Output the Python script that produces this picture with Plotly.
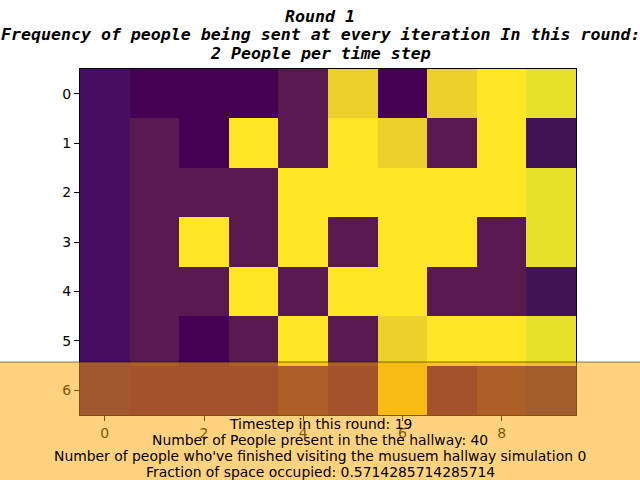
import plotly.graph_objects as go

# Colour codes: 0=A deep purple, 1=G dark violet, 2=B purple, 3=C red-purple,
# 4=E dark yellow, 5=F yellow-green, 6=D bright yellow
palette = ["#440154", "#421456", "#470d60", "#58194f", "#ecd12a", "#e8e12b", "#fde725"]

grid = [
    [2, 0, 0, 0, 3, 4, 0, 4, 6, 5],
    [2, 3, 0, 6, 3, 6, 4, 3, 6, 1],
    [2, 3, 3, 3, 6, 6, 6, 6, 6, 5],
    [2, 3, 6, 3, 6, 3, 6, 6, 3, 5],
    [2, 3, 3, 6, 3, 6, 6, 3, 3, 1],
    [2, 3, 0, 3, 6, 3, 4, 6, 6, 5],
    [2, 0, 0, 0, 3, 0, 4, 0, 3, 1],
]
cols = list(range(10))
rows = list(range(7))
x_ticks = [0, 2, 4, 6, 8]

title_lines = [
    "Round 1",
    "Frequency of people being sent at every iteration In this round:",
    "2 People per time step",
]
info_lines = [
    "Timestep in this round: 19",
    "Number of People present in the the hallway: 40",
    "Number of people who've finished visiting the musuem hallway simulation 0",
    "Fraction of space occupied: 0.5714285714285714",
]

n = len(palette) - 1
colorscale = [[i / n, c] for i, c in enumerate(palette)]

fig = go.Figure(go.Heatmap(
    z=grid, x=cols, y=rows, colorscale=colorscale, zmin=0, zmax=n,
    showscale=False, xgap=0, ygap=0,
))

L, R, T, B = 80, 64, 69, 65
W, H = 640, 480
pw, ph = W - L - R, H - T - B

def px_x(p):
    return (p - L) / pw

def px_y(p):
    return (H - B - p) / ph

annotations = []
for i, line in enumerate(title_lines):
    annotations.append(dict(
        text=line, xref="paper", yref="paper",
        x=px_x(320), y=px_y(16 + 18.5 * i), xanchor="center", yanchor="middle",
        showarrow=False, align="center",
        font=dict(family="DejaVu Sans Mono", size=16.6, weight="bold", style="italic", color="black"),
    ))
for i, line in enumerate(info_lines):
    annotations.append(dict(
        text=line, xref="paper", yref="paper",
        x=px_x(320), y=px_y(424 + 16 * i), xanchor="center", yanchor="middle",
        showarrow=False, align="center",
        font=dict(family="DejaVu Sans", size=13.9, color="black"),
    ))

fig.update_layout(
    width=W, height=H,
    margin=dict(l=L, r=R, t=T, b=B),
    paper_bgcolor="white", plot_bgcolor="white",
    font=dict(family="DejaVu Sans", size=14, color="black"),
    xaxis=dict(
        range=[-0.5, 9.5], tickvals=x_ticks, ticks="outside", ticklen=5, tickcolor="black",
        showgrid=False, zeroline=False, showline=True, linecolor="black", linewidth=1, mirror=True,
        tickfont=dict(size=14),
    ),
    yaxis=dict(
        range=[6.5, -0.5], tickvals=rows, ticks="outside", ticklen=5, tickcolor="black",
        showgrid=False, zeroline=False, showline=True, linecolor="black", linewidth=1, mirror=True,
        tickfont=dict(size=14),
    ),
    shapes=[dict(
        type="rect", xref="paper", yref="paper",
        x0=px_x(-5), x1=px_x(W + 5), y0=px_y(H + 5), y1=px_y(362),
        fillcolor="rgba(255,165,0,0.5)", line=dict(color="rgba(0,0,0,0.5)", width=1),
        layer="above",
    )],
    annotations=annotations,
)

fig.write_html("out.html")
